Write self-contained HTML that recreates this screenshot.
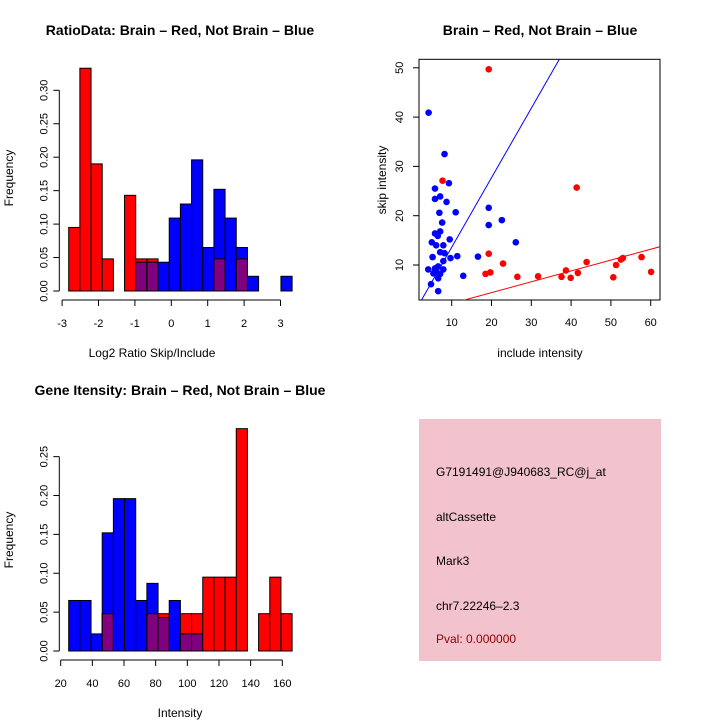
<!DOCTYPE html>
<html><head><meta charset="utf-8"><style>
body{margin:0;background:#fff}
svg{display:block;font-family:"Liberation Sans",sans-serif}
</style></head><body>
<svg id="s" width="720" height="720" viewBox="0 0 720 720">
<text x="180" y="35" font-size="14" font-weight="bold" text-anchor="middle">RatioData: Brain – Red, Not Brain – Blue</text>
<text x="540" y="35" font-size="14" font-weight="bold" text-anchor="middle">Brain – Red, Not Brain – Blue</text>
<text x="180" y="395" font-size="14" font-weight="bold" text-anchor="middle">Gene Itensity: Brain – Red, Not Brain – Blue</text>
<text transform="translate(13,178) rotate(-90)" font-size="12" text-anchor="middle">Frequency</text>
<text transform="translate(13,540) rotate(-90)" font-size="12" text-anchor="middle">Frequency</text>
<text x="152" y="357" font-size="12" text-anchor="middle">Log2 Ratio Skip/Include</text>
<text x="180" y="717" font-size="12" text-anchor="middle">Intensity</text>
<text x="540" y="357" font-size="12" text-anchor="middle">include intensity</text>
<text transform="translate(386,180) rotate(-90)" font-size="12" text-anchor="middle">skip intensity</text>
<rect x="419" y="419" width="242" height="242" fill="#f3c3cd"/>
<g font-size="12">
<text x="436" y="476">G7191491@J940683_RC@j_at</text>
<text x="436" y="521">altCassette</text>
<text x="436" y="565">Mark3</text>
<text x="436" y="610">chr7.22246–2.3</text>
<text x="436" y="643" fill="#8b0000">Pval: 0.000000</text>
</g>
<g id="g"></g>
</svg>
<script>
const ratioRed=[0.095,0.333,0.19,0.048,0,0.143,0.048,0.048,0,0,0,0,0,0.048,0,0.048,0,0,0,0];
const ratioBlue=[0,0,0,0,0,0,0.043,0.043,0.043,0.109,0.13,0.196,0.065,0.152,0.109,0.065,0.022,0,0,0.022];
const ratioTicks=[-3,-2,-1,0,1,2,3];
const ratioYTicks=[0,0.05,0.1,0.15,0.2,0.25,0.3];
const intRed=[0,0,0,0.048,0,0,0,0.048,0.048,0,0.048,0.048,0.095,0.095,0.095,0.286,0,0.048,0.095,0.048];
const intBlue=[0.065,0.065,0.022,0.152,0.196,0.196,0.065,0.087,0.043,0.065,0.022,0.022,0,0,0,0,0,0,0,0];
const intTicks=[20,40,60,80,100,120,140,160];
const intYTicks=[0,0.05,0.1,0.15,0.2,0.25];
const blueX=[4.2,8.2,9.3,5.8,5.8,7.1,8.7,6.9,11.0,7.6,5.8,7.1,6.5,9.5,5.0,6.1,7.9,7.1,8.2,5.2,9.7,11.4,7.9,4.1,5.8,6.6,7.9,6.2,7.1,6.6,4.8,6.6,12.9,16.6,19.3,19.3,22.6,26.1,5.4];
const blueY=[40.9,32.5,26.6,25.5,23.4,23.9,22.8,20.6,20.7,18.6,16.4,16.8,15.9,15.2,14.6,14.0,14.0,12.6,12.4,11.6,11.4,11.8,10.8,9.1,9.3,9.7,9.1,8.5,8.2,7.3,6.1,4.7,7.8,11.7,21.6,18.1,19.1,14.6,8.3];
const redX=[19.3,7.7,41.4,19.3,22.9,19.7,18.5,26.5,31.7,37.6,38.7,39.9,41.7,43.9,50.6,51.3,52.5,53.0,57.7,60.1];
const redY=[49.7,27.1,25.7,12.3,10.3,8.5,8.2,7.6,7.7,7.6,8.9,7.4,8.4,10.6,7.5,10.0,11.1,11.4,11.6,8.6];
const scTicksX=[10,20,30,40,50,60];
const scTicksY=[10,20,30,40,50];
const blueLine=[1.41,-0.5];
const redLine=[0.22,0.0];

const NS='http://www.w3.org/2000/svg',G=document.getElementById('g');
function mk(t,a,p){const e=document.createElementNS(NS,t);for(const k in a)e.setAttribute(k,a[k]);(p||G).appendChild(e);return e;}

function hist(red,blue,x0,bw,xs,y0,ys,xt,yt,yAxisX,tickY,pre){
  const bx=i=>x0+i*bw;
  const yy=v=>y0-v*ys;
  const n=Math.max(red.length,blue.length);
  for(let i=0;i<n;i++){
    const r=red[i]||0,b=blue[i]||0,m=Math.min(r,b);
    if(r>0){const e=mk('rect',{x:bx(i),y:yy(r),width:bw,height:r*ys,fill:'#ff0000',stroke:'#000','stroke-width':1});
      
      }
    if(b>0){const e=mk('rect',{x:bx(i),y:yy(b),width:bw,height:b*ys,fill:'#0000ff',stroke:'#000','stroke-width':1});
      
      }
    if(m>0){const e=mk('rect',{x:bx(i),y:yy(m),width:bw,height:m*ys,fill:'#800080',stroke:'#000','stroke-width':1});
      
      }
  }
  const ya=mk('line',{x1:yAxisX,x2:yAxisX,y1:yy(yt[0]),y2:yy(yt[yt.length-1]),stroke:'#000'});
  
  
  yt.forEach(v=>{mk('line',{x1:yAxisX-6,x2:yAxisX,y1:yy(v),y2:yy(v),stroke:'#000'});
    const t=mk('text',{transform:`translate(${yAxisX-12},${yy(v)}) rotate(-90)`,'font-size':11,'text-anchor':'middle'});
    t.textContent=v.toFixed(2);
    
    });
  const xa=mk('line',{x1:xs(xt[0]),x2:xs(xt[xt.length-1]),y1:tickY,y2:tickY,stroke:'#000'});
  
  
  xt.forEach(v=>{mk('line',{x1:xs(v),x2:xs(v),y1:tickY,y2:tickY+6,stroke:'#000'});
    const t=mk('text',{x:xs(v),y:tickY+27,'font-size':11,'text-anchor':'middle'});
    t.textContent=v;
    
    });
}
hist(ratioRed,ratioBlue,68.7,11.17,v=>171.3+v*36.4,291,33.45/0.05,ratioTicks,ratioYTicks,59.3,300,'ratio');
hist(intRed,intBlue,68.7,11.17,v=>60.7+(v-20)*221.6/140,651,38.87/0.05,intTicks,intYTicks,59.3,660,'intensity');

const sx=v=>451.7+(v-10)*3.98, sy=v=>265-(v-10)*4.93;
const box=mk('rect',{x:419,y:59.3,width:241,height:240.7,fill:'none',stroke:'#000'});


const cp=mk('clipPath',{id:'cp'});mk('rect',{x:419,y:59.3,width:241,height:240.7},cp);
const lg=mk('g',{'clip-path':'url(#cp)'});
[[blueLine,'#0000ff','blue-fit-line'],[redLine,'#ff0000','red-fit-line']].forEach(([l,c,n])=>{
  const e=mk('line',{x1:sx(0),y1:sy(l[1]),x2:sx(70),y2:sy(l[0]*70+l[1]),stroke:c,'stroke-width':1},lg);
  
  });
blueX.forEach((v,i)=>{const e=mk('circle',{cx:sx(v),cy:sy(blueY[i]),r:3.3,fill:'#0000ff'});
  
  });
redX.forEach((v,i)=>{const e=mk('circle',{cx:sx(v),cy:sy(redY[i]),r:3.3,fill:'#ff0000'});
  
  });
scTicksX.forEach(v=>{mk('line',{x1:sx(v),x2:sx(v),y1:300,y2:306,stroke:'#000'});
  const t=mk('text',{x:sx(v),y:326,'font-size':11,'text-anchor':'middle'});t.textContent=v;
  
  });
scTicksY.forEach(v=>{mk('line',{x1:413,x2:419,y1:sy(v),y2:sy(v),stroke:'#000'});
  const t=mk('text',{transform:`translate(403,${sy(v)}) rotate(-90)`,'font-size':11,'text-anchor':'middle'});t.textContent=v;
  
  });
</script>
</body></html>
